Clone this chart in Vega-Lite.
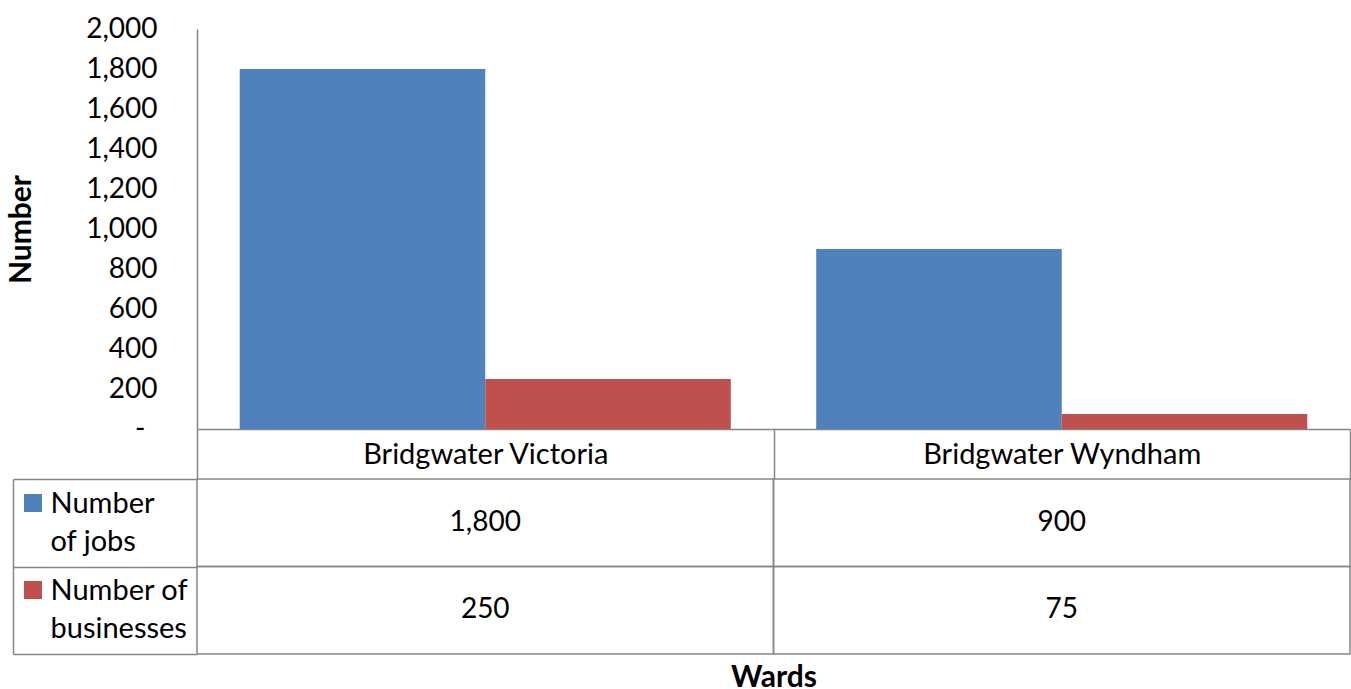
{
  "$schema": "https://vega.github.io/schema/vega-lite/v6.json",
  "padding": {"left": 6, "top": 15, "right": 0, "bottom": 0},
  "autosize": {"type": "pad"},
  "bounds": "flush",
  "spacing": 50,
  "data": {
    "values": [
      {"Ward": "Bridgwater Victoria", "Series": "Number of jobs", "Value": 1800},
      {"Ward": "Bridgwater Victoria", "Series": "Number of businesses", "Value": 250},
      {"Ward": "Bridgwater Wyndham", "Series": "Number of jobs", "Value": 900},
      {"Ward": "Bridgwater Wyndham", "Series": "Number of businesses", "Value": 75}
    ]
  },
  "vconcat": [
    {
      "width": 1153,
      "height": 400,
      "mark": {"type": "bar"},
      "encoding": {
        "x": {
          "field": "Ward", "type": "nominal", "sort": null,
          "scale": {"paddingInner": 0, "paddingOuter": 0},
          "axis": {
            "title": null, "orient": "bottom",
            "domainColor": "#868686", "domainWidth": 1.5,
            "tickBand": "extent", "tickSize": 50, "tickColor": "#868686", "tickWidth": 1.5,
            "labelAngle": 0, "labelBaseline": "middle", "labelPadding": -25, "labelLimit": 500,
            "labelFontSize": 29
          }
        },
        "xOffset": {
          "field": "Series", "type": "nominal",
          "sort": ["Number of jobs", "Number of businesses"],
          "scale": {"paddingInner": 0, "paddingOuter": 0.174}
        },
        "y": {
          "field": "Value", "type": "quantitative",
          "scale": {"domain": [0, 2000]},
          "axis": {
            "title": "Number",
            "values": [0, 200, 400, 600, 800, 1000, 1200, 1400, 1600, 1800, 2000],
            "format": ",d",
            "labelExpr": "datum.value == 0 ? '-' : datum.label",
            "ticks": false, "grid": false,
            "domainColor": "#868686", "domainWidth": 1.5,
            "labelPadding": {"condition": {"test": "datum.value == 0", "value": 52}, "value": 40},
            "minExtent": 106, "maxExtent": 106,
            "titlePadding": 55, "titleFontSize": 30, "titleFontWeight": "bold"
          }
        },
        "color": {
          "field": "Series", "type": "nominal",
          "sort": ["Number of jobs", "Number of businesses"],
          "scale": {"range": ["#4F81BD", "#C0504D"]},
          "legend": {
            "orient": "none", "legendX": -173, "legendY": 465,
            "title": null, "symbolType": "square", "symbolSize": 324,
            "symbolStrokeWidth": 0, "labelExpr": "''", "labelFontSize": 1,
            "rowPadding": 69, "padding": 0, "symbolOffset": 0
          }
        }
      }
    },
    {
      "width": 1153,
      "height": 175,
      "encoding": {
        "x": {
          "field": "Ward", "type": "nominal", "sort": null,
          "scale": {"paddingInner": 0, "paddingOuter": 0},
          "axis": {
            "title": "Wards", "labels": false, "ticks": false, "domain": false, "grid": false,
            "titlePadding": 8, "titleFontSize": 30, "titleFontWeight": "bold"
          }
        }
      },
      "layer": [
        {
          "mark": {"type": "rect", "fill": "transparent", "stroke": "#868686", "strokeWidth": 1.5},
          "encoding": {
            "y": {
              "field": "Series", "type": "nominal",
              "sort": ["Number of jobs", "Number of businesses"],
              "scale": {"paddingInner": 0, "paddingOuter": 0},
              "axis": {
                "orient": "left", "offset": 184, "labels": false, "grid": false,
                "ticks": true, "tickBand": "extent", "tickSize": -184,
                "tickColor": "#868686", "tickWidth": 1.5,
                "domain": true, "domainColor": "#868686", "domainWidth": 1.5, "title": null
              }
            }
          }
        },
        {
          "mark": {"type": "text", "fontSize": 28, "color": "#000000"},
          "encoding": {
            "text": {"field": "Value", "type": "quantitative", "format": ",d"},
            "y": {
              "field": "Series", "type": "nominal",
              "sort": ["Number of jobs", "Number of businesses"],
              "scale": {"paddingInner": 0, "paddingOuter": 0},
              "axis": {
                "orient": "left", "ticks": false, "domain": false, "grid": false, "title": null,
                "labelAlign": "left", "labelBaseline": "middle", "labelPadding": 147,
                "labelOffset": -19,
                "labelLineHeight": 38, "labelLimit": 300, "labelFontSize": 29,
                "labelExpr": "datum.label == 'Number of jobs' ? ['Number', '\u00a0of jobs'] : ['Number of', 'businesses']"
              }
            }
          }
        }
      ],
      "resolve": {"axis": {"y": "independent"}}
    }
  ],
  "config": {
    "view": {"stroke": null},
    "font": "Lato",
    "axis": {"labelFont": "Lato", "labelFontSize": 28, "labelColor": "#000000", "titleFont": "Lato", "titleColor": "#000000"},
    "text": {"font": "Lato"}
  }
}
